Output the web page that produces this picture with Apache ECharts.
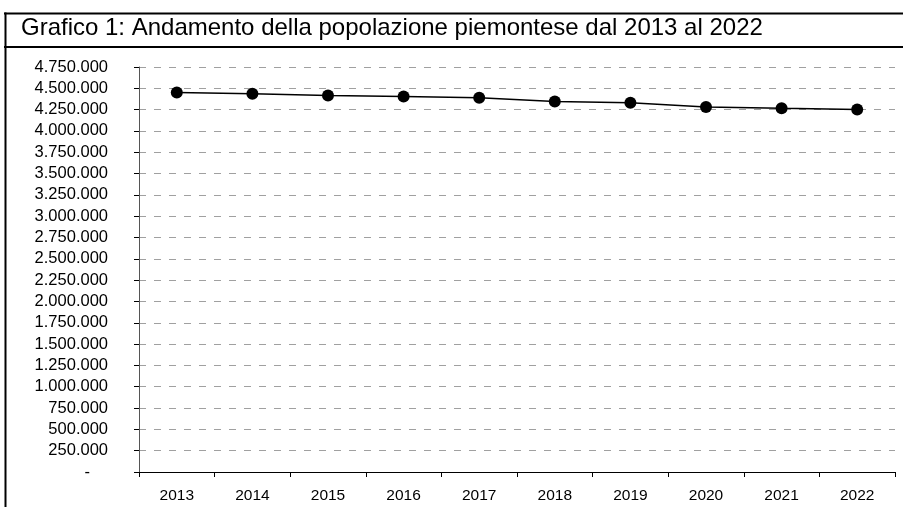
<!DOCTYPE html>
<html>
<head>
<meta charset="utf-8">
<script src="https://cdn.jsdelivr.net/npm/echarts@6/dist/echarts.min.js"></script>
<style>
html,body{margin:0;padding:0;background:#fff;}
#chart{width:903px;height:507px;}
</style>
</head>
<body>
<div id="chart"></div>
<script>
const title = 'Grafico 1: Andamento della popolazione piemontese dal 2013 al 2022';
const years = ['2013','2014','2015','2016','2017','2018','2019','2020','2021','2022'];
const population = [4452000, 4436000, 4416000, 4404000, 4390000, 4344000, 4330000, 4282000, 4266000, 4252000];
const yMin = 0, yMax = 4750000, yStep = 250000;

function fmt(v){
  if (v === 0) return '{z|-}';
  return String(v).replace(/\B(?=(\d{3})+(?!\d))/g, '.');
}

const chart = echarts.init(document.getElementById('chart'));
chart.setOption({
  animation: false,
  backgroundColor: '#fff',
  textStyle: {fontFamily: 'Liberation Sans, Arial, sans-serif'},
  graphic: [
    {type:'line', shape:{x1:4, y1:13.5, x2:903, y2:13.5}, style:{stroke:'#000', lineWidth:2}},
    {type:'line', shape:{x1:4, y1:47, x2:903, y2:47}, style:{stroke:'#000', lineWidth:2}},
    {type:'line', shape:{x1:5.5, y1:12.5, x2:5.5, y2:507}, style:{stroke:'#000', lineWidth:2}},
    {type:'text', left:21, top:16, style:{text:title, fontSize:24, fill:'#000', fontFamily:'Liberation Sans, Arial, sans-serif'}}
  ],
  grid: {left:139, right:8, top:67, bottom:35},
  xAxis: {
    type:'category',
    data: years,
    boundaryGap: true,
    axisLine:{lineStyle:{color:'#000', width:1}},
    axisTick:{show:true, length:5, lineStyle:{color:'#000'}},
    axisLabel:{color:'#000', fontSize:15.5, margin:16}
  },
  yAxis: {
    type:'value',
    min:yMin, max:yMax, interval:yStep,
    axisLine:{show:true, lineStyle:{color:'#555', width:1}},
    axisTick:{show:true, length:5, lineStyle:{color:'#000'}},
    axisLabel:{color:'#000', fontSize:16.5, margin:31, formatter: fmt,
      rich:{z:{fontSize:16.5, color:'#000', padding:[0,18,0,0]}}},
    splitLine:{show:true, lineStyle:{color:'#a0a0a0', width:1, type:[7,8]}}
  },
  series: [{
    type:'line',
    data: population,
    symbol:'circle',
    symbolSize:12,
    lineStyle:{color:'#000', width:1.5},
    itemStyle:{color:'#000'}
  }]
});
</script>
</body>
</html>
